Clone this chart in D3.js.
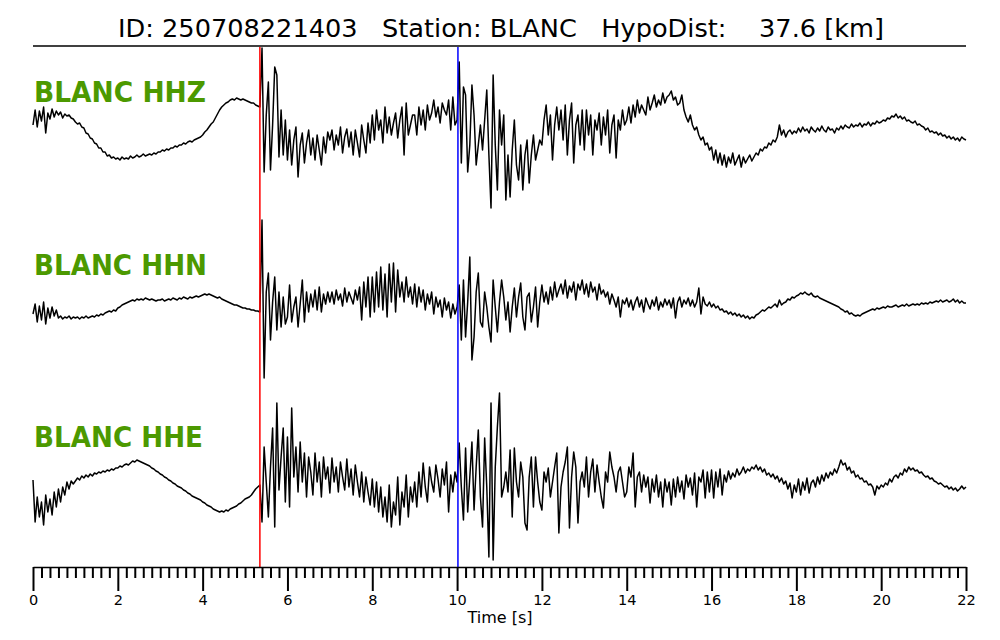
<!DOCTYPE html>
<html>
<head>
<meta charset="utf-8">
<script src="https://cdn.jsdelivr.net/npm/d3@7/dist/d3.min.js"></script>
<style>
  html, body { margin: 0; padding: 0; background: #fff; }
  svg { display: block; font-family: "DejaVu Sans", sans-serif; }
</style>
</head>
<body>
<svg id="chart" width="1000" height="640"></svg>
<script>
// ---------- data ----------
const titleText = "ID: 250708221403   Station: BLANC   HypoDist:    37.6 [km]";
const channels = ["BLANC HHZ", "BLANC HHN", "BLANC HHE"];
const sampleInterval = 0.05;      // s
const pickP = 5.35;               // s (red)
const pickS = 10.02;              // s (blue)
const majorTickValues = [0, 2, 4, 6, 8, 10, 12, 14, 16, 18, 20, 22];
const tickLabels = ["0", "2", "4", "6", "8", "10", "12", "14", "16", "18", "20", "22"];
const xLabel = "Time [s]";

const hhz = [
  10, 25, 8, 24, 14, 28, 2, 22, 16, 26, 18, 24, 20, 23, 17, 21, 19, 20, 17, 16,
  13, 11, 12, 8, 7, 2, 1, -3, -4, -8, -9, -13, -13, -17, -17, -21, -20, -23, -22, -24,
  -23, -25, -22, -24, -23, -24, -21, -23, -22, -20, -22, -21, -19, -21, -20, -19, -20, -18, -19, -17,
  -17, -15, -16, -14, -15, -13, -13, -11, -12, -10, -10, -8, -9, -7, -6, -7, -5, -4, -3, -2,
  0, 3, 5, 8, 11, 13, 17, 21, 25, 28, 30, 32, 33, 35, 36, 35, 37, 36, 35, 36,
  35, 34, 33, 32, 32, 30, 29, 28, 87, -37, 20, 53, -35, 10, 68, 60, -22, 25, -20, 15,
  -25, 5, -30, -5, 8, -42, -10, 2, -28, -8, 5, -20, -3, -25, 0, -15, -30, -2, -18, 3,
  -5, 5, -15, 0, -10, 8, -18, -2, 6, -12, 3, -20, 5, -8, -22, 10, -5, -18, 12, -8,
  20, -5, 25, 5, 15, -8, 28, 2, 18, 0, 12, 22, -3, 15, 28, -20, 32, 0, 10, 20,
  20, 0, 28, 10, 25, 5, 30, 15, 22, 35, 18, 28, 12, 32, 25, 20, 35, 5, 38, 10,
  15, 73, -28, 48, 40, -37, -10, 50, 20, -30, -10, 10, -15, 15, 45, -20, -73, 60, -10, -55,
  25, -10, 20, -65, -20, -62, -15, 15, -30, -45, -10, -55, -20, -5, -48, -20, 0, -25, -15, -5,
  -10, 15, 30, 0, 20, -25, 10, 28, 5, 25, -5, 30, -20, 15, 32, -28, 10, 20, -10, 25,
  -15, 25, 0, 20, -20, 15, 5, 22, -10, 18, 0, 25, -18, 10, 20, -23, 15, 5, 25, 10,
  15, 28, 12, 30, 18, 35, 22, 30, 25, 20, 38, 25, 32, 40, 28, 35, 30, 42, 32, 38,
  40, 44, 35, 38, 30, 32, 40, 25, 18, 13, 20, 10, 5, 8, 0, -5, -2, -10, -8, -15,
  -12, -25, -15, -28, -18, -30, -20, -32, -22, -28, -18, -30, -25, -20, -32, -22, -28, -24, -20, -26,
  -22, -18, -20, -14, -16, -12, -13, -8, -10, -5, -7, -2, 10, 0, 5, -2, 3, 5, 1, 4,
  2, 7, 3, 8, 4, 6, 2, 8, 5, 3, 7, 4, 9, 5, 3, 8, 5, 6, 2, 7,
  5, 9, 6, 10, 8, 7, 11, 8, 10, 9, 12, 8, 11, 10, 13, 9, 12, 11, 14, 12,
  13, 15, 14, 17, 16, 19, 18, 21, 17, 19, 16, 18, 14, 15, 13, 12, 14, 10, 11, 9,
  8, 5, 7, 3, 4, 2, 3, 0, 2, -1, 0, -3, -1, -4, -2, -5, -3, -6, -2, -4,
  -5
];

const hhn = [
  -2, 8, -10, 6, -8, 10, -12, 4, -6, 5, -4, 2, -6, -4, -7, -5, -6, -4, -7, -5,
  -6, -5, -7, -5, -6, -4, -6, -5, -4, -5, -3, -4, -2, -3, -1, 0, 1, 0, 2, 1,
  4, 5, 7, 8, 9, 10, 11, 12, 11, 13, 12, 13, 12, 14, 13, 12, 13, 12, 11, 12,
  12, 13, 11, 12, 13, 12, 14, 13, 12, 14, 13, 15, 14, 13, 15, 14, 15, 16, 15, 16,
  17, 18, 17, 18, 17, 16, 15, 14, 15, 13, 12, 11, 10, 9, 8, 7, 7, 6, 5, 4,
  4, 3, 3, 2, 2, 1, 1, 0, 92, -66, 20, 39, -28, 10, 35, -18, 20, -15, 15, -12,
  -5, 27, -10, 5, 15, -15, 8, 32, -10, 20, 0, 18, 5, 22, 2, 25, 0, 18, 8, 20,
  10, 20, 8, 22, 12, 18, 6, 24, 10, 20, 14, 8, 22, 12, 25, -8, 30, 5, 35, -5,
  35, 0, 40, 5, 45, 2, 38, -5, 48, 10, 49, 0, 42, 15, 30, 10, 35, 15, 25, 8,
  28, 5, 25, 10, 22, 2, 18, 8, 20, -2, 15, 5, 12, -5, 14, 2, 10, -6, 8, -2,
  5, 27, -28, 32, -25, 10, 55, -48, -25, 20, 39, -10, -15, 20, 5, -15, -30, 32, 5, -20,
  10, 32, 15, -8, 10, -20, 5, 24, -5, 15, 29, -5, -18, 15, 19, -10, 5, 25, -15, 10,
  27, 10, 20, 8, 25, 12, 30, 15, 22, 28, 18, 32, 14, 26, 20, 30, 12, 28, 22, 32,
  18, 28, 15, 30, 20, 25, 12, 28, 18, 22, 15, 20, 8, 18, 12, 5, 15, -5, 12, 8,
  14, 5, 12, 2, 10, 15, 5, 12, 0, 14, 8, 3, 12, 6, 15, 2, 10, 5, 13, 7,
  12, 4, 14, -6, 10, 15, 5, 12, 8, 14, 6, 12, 5, 10, 24, -2, 15, 8, 6, 10,
  5, 8, 4, 6, 2, 3, 0, 1, -2, 0, -3, -1, -4, -2, -5, -3, -6, -4, -7, -5,
  -6, -3, -2, 0, 2, 1, 3, 5, 4, 6, 8, 5, 12, 7, 9, 10, 13, 12, 15, 14,
  16, 17, 19, 18, 20, 18, 17, 19, 16, 15, 16, 14, 13, 12, 11, 10, 9, 8, 7, 6,
  5, 3, 2, 0, 1, -2, -1, -3, -4, -3, -4, -2, -1, 0, 1, 2, 3, 2, 4, 3,
  4, 5, 4, 6, 5, 5, 6, 7, 5, 6, 7, 6, 8, 6, 7, 8, 7, 8, 7, 9,
  8, 9, 8, 10, 9, 10, 11, 10, 12, 10, 11, 12, 10, 11, 13, 10, 12, 9, 11, 9,
  9
];

const hhe = [
  7, -35, -10, -30, -15, -38, -8, -25, -12, -28, -5, -20, -2, -15, 0, -8, 5, -2, 6, 3,
  6, 9, 7, 11, 9, 12, 10, 13, 11, 14, 13, 15, 14, 16, 15, 17, 16, 18, 17, 19,
  19, 21, 20, 22, 23, 22, 24, 26, 25, 27, 26, 25, 24, 23, 22, 21, 19, 18, 16, 15,
  13, 12, 10, 9, 7, 6, 4, 3, 1, 0, -1, -3, -4, -6, -7, -9, -10, -11, -12, -13,
  -15, -16, -18, -19, -20, -22, -23, -24, -25, -24, -25, -23, -24, -22, -21, -20, -19, -17, -16, -14,
  -12, -11, -10, -8, -5, -2, 0, 2, -35, 40, 5, -30, 20, 59, -40, 84, -3, 30, 59, -15,
  50, -20, 79, 10, 40, -5, 45, 5, 34, -10, 30, 15, -8, 34, 5, 25, -10, 30, 8, 20,
  -6, 29, 5, 20, -5, 25, 10, -3, 28, 0, 18, -8, 22, 5, -10, 15, -15, 10, -5, -18,
  8, -20, 5, -25, 0, -30, -10, -35, 2, -40, -15, -28, 10, -38, -5, -20, 12, -30, 0, -15,
  5, -20, 15, -10, 24, 0, -15, 20, 5, -5, 22, 8, -10, 18, 2, 25, -25, 12, -5, 15,
  5, 44, 0, -33, 39, -25, 10, 45, -23, 20, 57, -10, -40, 49, 0, -70, 84, -73, 20, 60,
  94, -10, 0, 15, -5, 37, -30, 39, 5, -10, 25, 10, -36, -43, 10, 30, -20, 30, 5, -15,
  -23, 15, 5, 19, -10, 5, 20, 34, -46, 0, 15, 25, 40, -41, 10, 35, 20, -36, 5, 15,
  0, 30, -10, 15, 28, -5, 22, 5, -10, -21, 15, 5, 35, 20, 10, -5, 15, 20, 5, -10,
  -5, 20, 10, 34, -20, 10, 15, -5, 12, 0, 10, -16, 8, -5, 12, -10, 5, -20, 8, -5,
  5, -18, 8, -10, 10, -5, 6, -12, 12, 0, 9, -8, 14, -20, 10, 5, 17, -11, 15, -5,
  17, -11, 15, 0, 18, -8, 12, 5, 16, 8, 14, 10, 18, 12, 15, 20, 14, 18, 16, 20,
  18, 22, 17, 20, 15, 18, 12, 14, 10, 13, 8, 11, 5, 9, 3, 6, -2, 4, -11, 2,
  -5, 8, -8, 5, -3, 9, -6, 4, 7, 0, 10, 3, 12, 6, 14, 9, 15, 12, 18, 14,
  20, 27, 22, 24, 17, 20, 14, 16, 10, 12, 8, 9, 5, 6, 2, 3, 0, -8, 1, -2,
  2, 0, 4, 2, 8, 5, 10, 12, 9, 14, 12, 18, 15, 20, 17, 19, 16, 17, 14, 15,
  12, 10, 11, 8, 9, 6, 5, 3, 4, 2, 0, 1, -2, 0, -3, -1, -4, -2, 1, -2,
  0
];

// ---------- layout ----------
const svg = d3.select("#chart");
const left = 33, right = 966;
const topLine = 46, axisY = 567;
const traceCenters = [135, 312, 487];
const labelBaselines = [102, 275, 447];
const labelWidths = [172, 173, 169];
const green = "#4c9900";

const x = d3.scaleLinear().domain([0, 22]).range([left, right]);

// title
svg.append("text")
  .attr("x", 501).attr("y", 37)
  .attr("text-anchor", "middle")
  .attr("font-size", 25.5)
  .attr("textLength", 766).attr("lengthAdjust", "spacingAndGlyphs")
  .attr("fill", "#000")
  .style("white-space", "pre")
  .attr("xml:space", "preserve")
  .text(titleText);

svg.append("line")
  .attr("x1", left).attr("x2", right)
  .attr("y1", topLine).attr("y2", topLine)
  .attr("stroke", "#000").attr("stroke-width", 1.5);

// traces
const traces = [hhz, hhn, hhe];
traces.forEach((data, k) => {
  const y = d3.scaleLinear().domain([-100, 100])
    .range([traceCenters[k] + 100, traceCenters[k] - 100]);
  const line = d3.line()
    .x((d, i) => x(i * sampleInterval))
    .y(d => y(d));
  svg.append("path")
    .datum(data)
    .attr("d", line)
    .attr("fill", "none")
    .attr("stroke", "#000")
    .attr("stroke-width", 1.5)
    .attr("stroke-linejoin", "round");

  svg.append("text")
    .attr("x", left + 1).attr("y", labelBaselines[k])
    .attr("font-size", 29)
    .attr("font-weight", "bold")
    .attr("fill", green)
    .attr("textLength", labelWidths[k]).attr("lengthAdjust", "spacingAndGlyphs")
    .text(channels[k]);
});

// picks
[[pickP, "#ff0000"], [pickS, "#0000ff"]].forEach(([t, c]) => {
  svg.append("line")
    .attr("x1", x(t)).attr("x2", x(t))
    .attr("y1", topLine + 1).attr("y2", axisY)
    .attr("stroke", c).attr("stroke-width", 1.5);
});

// axis
const minorTicks = d3.range(0, 110).map(i => i * 0.2).filter(v => Math.abs(v / 2 - Math.round(v / 2)) > 1e-6);
const minorAxis = d3.axisBottom(x).tickValues(minorTicks).tickSize(11).tickSizeOuter(0).tickFormat("");
const gMinor = svg.append("g").attr("transform", `translate(0,${axisY})`).call(minorAxis);
gMinor.select(".domain").remove();
gMinor.selectAll(".tick line").attr("stroke", "#000").attr("stroke-width", 2);

const majorAxis = d3.axisBottom(x).tickValues(majorTickValues).tickSize(24).tickSizeOuter(0)
  .tickPadding(4).tickFormat((d, i) => tickLabels[i]);
const gMajor = svg.append("g").attr("transform", `translate(0,${axisY})`).call(majorAxis);
gMajor.select(".domain").attr("stroke", "#000").attr("stroke-width", 1.5);
gMajor.selectAll(".tick line").attr("stroke", "#000").attr("stroke-width", 2);
gMajor.selectAll(".tick text").attr("font-size", 14.5).attr("font-family", "DejaVu Sans").attr("fill", "#000");

svg.append("text")
  .attr("x", 500).attr("y", 623)
  .attr("text-anchor", "middle")
  .attr("font-size", 16)
  .attr("fill", "#000")
  .text(xLabel);
</script>
</body>
</html>
